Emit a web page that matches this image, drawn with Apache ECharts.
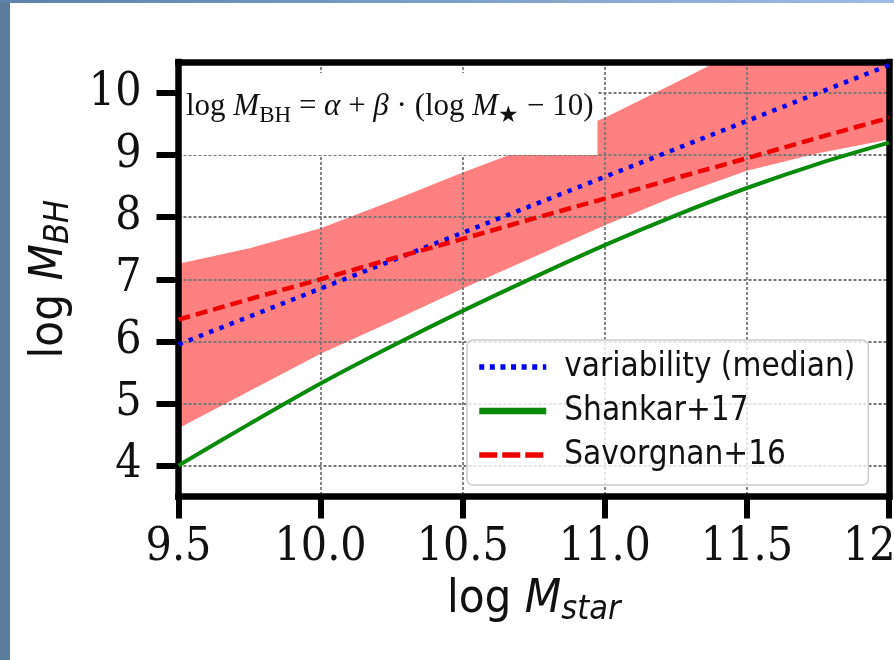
<!DOCTYPE html>
<html>
<head>
<meta charset="utf-8">
<script src="https://cdn.jsdelivr.net/npm/echarts@6/dist/echarts.min.js"></script>
<style>
  html, body { margin: 0; padding: 0; background: #fff; }
  #wrap { position: relative; width: 894px; height: 660px; overflow: hidden; background: #fff; }
  .edge-left { position: absolute; left: 0; top: 0; width: 10px; height: 660px; background: #5b7c9d; }
  .edge-top { position: absolute; left: 0; top: 0; width: 894px; height: 3px; background: linear-gradient(to right, #5f82a8, #9fbbe0); }
  #chart { position: absolute; left: 0; top: 0; width: 894px; height: 660px; }
</style>
</head>
<body>
<div id="wrap">
  <div class="edge-left"></div>
  <div class="edge-top"></div>
  <div id="chart"></div>
</div>
<script>
// log M_star sample points
const logMstar = [9.5, 9.75, 10.0, 10.25, 10.5, 10.75, 11.0, 11.25, 11.5, 11.75, 12.0];
// variability band (lower / upper edge)
const bandLow = [4.6, 5.2, 5.8, 6.32, 6.85, 7.36, 7.87, 8.34, 8.75, 9.03, 9.25];
const bandHigh = [7.25, 7.5, 7.82, 8.26, 8.72, 9.15, 9.6, 10.17, 10.75, 11.3, 11.9];
// relations
const median = [5.95, 6.4, 6.85, 7.3, 7.75, 8.2, 8.65, 9.1, 9.55, 10.0, 10.45];
const shankar = [4.0, 4.67, 5.32, 5.92, 6.49, 7.03, 7.55, 8.03, 8.47, 8.86, 9.2];
const savorgnan = [6.35, 6.68, 7.0, 7.33, 7.65, 7.98, 8.3, 8.63, 8.95, 9.28, 9.6];
// ticks
const yTicks = [4, 5, 6, 7, 8, 9, 10];

const sans = "'DejaVu Sans Condensed', 'DejaVu Sans', sans-serif";
const serif = "'DejaVu Serif Condensed', 'DejaVu Serif', serif";
const mathFont = "'Liberation Serif', 'DejaVu Serif', serif";

const pairs = arr => logMstar.map((x, i) => [x, arr[i]]);

const chart = echarts.init(document.getElementById('chart'));

// spines + grid
const spine = { show: true, lineStyle: { color: '#000', width: 6.5, cap: 'square' } };
const gridLine = { show: true, lineStyle: { color: '#777', width: 1.8, type: [3, 2] } };

const nameRich = {
  a: { fontFamily: sans, fontSize: 47, lineHeight: 54, color: '#111' },
  m: { fontFamily: sans, fontSize: 47, lineHeight: 54, fontStyle: 'italic', color: '#111' },
  s: { fontFamily: sans, fontSize: 34, lineHeight: 28, fontStyle: 'italic', verticalAlign: 'bottom', color: '#111' }
};

const option = {
  backgroundColor: 'transparent',
  animation: false,
  grid: { left: 178.5, right: 5, top: 62, bottom: 163.5, outerBoundsMode: 'none', containLabel: false },
  xAxis: [
    {
      type: 'value', min: 9.5, max: 12, interval: 0.5, z: 1,
      axisLine: spine,
      axisTick: { show: true, inside: false, length: 22, lineStyle: { color: '#000', width: 6 } },
      axisLabel: {
        margin: 29, color: '#111', fontFamily: serif, fontSize: 46,
        formatter: v => v.toFixed(1)
      },
      splitLine: gridLine,
      name: '{a|log }{m|M}{s|star}',
      nameLocation: 'middle',
      nameGap: 70,
      nameTextStyle: { rich: nameRich }
    },
    {
      type: 'value', min: 9.5, max: 12, position: 'top', z: 1,
      axisLine: spine, axisTick: { show: false }, axisLabel: { show: false }, splitLine: { show: false }
    }
  ],
  yAxis: [
    {
      type: 'value', min: 3.5, max: 10.5, z: 1,
      axisLine: spine,
      axisTick: { show: true, inside: false, length: 22, customValues: yTicks, lineStyle: { color: '#000', width: 6 } },
      axisLabel: { margin: 37, color: '#111', fontFamily: serif, fontSize: 46, customValues: yTicks },
      splitLine: gridLine,
      name: '{a|log }{m|M}{s|BH}',
      nameLocation: 'middle',
      nameRotate: 90,
      nameGap: 102,
      nameTextStyle: { rich: nameRich }
    },
    {
      type: 'value', min: 3.5, max: 10.5, position: 'right', z: 1,
      axisLine: spine, axisTick: { show: false }, axisLabel: { show: false }, splitLine: { show: false }
    }
  ],
  legend: {
    left: 467, top: 340,
    orient: 'vertical',
    data: [
      { name: 'variability (median)', lineStyle: { width: 5.5, type: [5, 5.6] } },
      { name: 'Shankar+17', lineStyle: { width: 6.5 } },
      { name: 'Savorgnan+16', lineStyle: { width: 5.5, type: [18, 5] } }
    ],
    itemWidth: 67, itemHeight: 14, itemGap: 8,
    padding: [9, 13, 12, 9],
    backgroundColor: 'rgba(255,255,255,0.8)',
    borderColor: '#cccccc', borderWidth: 1.5, borderRadius: 6,
    itemStyle: { opacity: 0, color: 'transparent', borderWidth: 0 },
    textStyle: { fontFamily: sans, fontSize: 33, lineHeight: 36, color: '#111', padding: [0, 0, 0, 13] }
  },
  graphic: [
    {
      type: 'text', left: 183, top: 73, z: 100,
      style: {
        text: '{r|log }{i|M}{sub|BH}{r| = }{i|α}{r| + }{i|β}{r| · (log }{i|M}{sub|★}{r| − 10)}',
        backgroundColor: '#fff',
        padding: [14, 4, 28, 3],
        rich: {
          r: { fontFamily: mathFont, fontSize: 31, lineHeight: 40, fill: '#111' },
          i: { fontFamily: mathFont, fontSize: 31, lineHeight: 40, fontStyle: 'italic', fill: '#111' },
          sub: { fontFamily: mathFont, fontSize: 23, lineHeight: 22, verticalAlign: 'bottom', fill: '#111' }
        }
      }
    }
  ],
  series: [
    {
      name: 'band', type: 'custom', z: 0, silent: true,
      data: pairs(bandHigh),
      renderItem: function (params, api) {
        if (params.dataIndex !== 0) return null;
        const upper = logMstar.map((x, i) => api.coord([x, bandHigh[i]]));
        const lower = logMstar.map((x, i) => api.coord([x, bandLow[i]])).reverse();
        const cs = params.coordSys;
        return {
          type: 'polygon',
          shape: { points: upper.concat(lower) },
          style: { fill: 'rgb(255,128,128)' },
          clipPath: { type: 'rect', shape: { x: cs.x, y: cs.y, width: cs.width, height: cs.height } }
        };
      }
    },
    {
      name: 'variability (median)', type: 'line', z: 3,
      data: pairs(median), symbol: 'none',
      lineStyle: { color: '#0000ee', width: 4.5, type: [4.5, 6.5] },
      itemStyle: { color: '#0000ee' }
    },
    {
      name: 'Shankar+17', type: 'line', z: 3,
      data: pairs(shankar), symbol: 'none', smooth: 0.3,
      lineStyle: { color: '#0a8a0a', width: 4 },
      itemStyle: { color: '#0a8a0a' }
    },
    {
      name: 'Savorgnan+16', type: 'line', z: 3,
      data: pairs(savorgnan), symbol: 'none',
      lineStyle: { color: '#ee0000', width: 4.5, type: [12, 6] },
      itemStyle: { color: '#ee0000' }
    }
  ]
};

chart.setOption(option);
window.addEventListener('resize', function () {
  chart.resize();
});
</script>
</body>
</html>
